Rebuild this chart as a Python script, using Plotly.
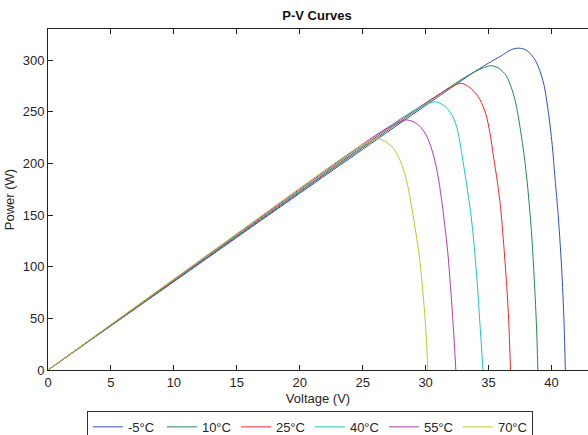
import plotly.graph_objects as go

# Temperature labels
temps = ["-5°C", "10°C", "25°C", "40°C", "55°C", "70°C"]

# Voltage (V) / Power (W) readings for each curve
v_m5 = [0, 5, 10, 15, 20, 25, 30, 34.0, 35.0, 36.0, 36.8, 37.4, 38.0, 38.6, 39.0, 39.4, 39.8, 40.08, 40.26, 40.5, 40.8, 41.0, 41.1]
p_m5 = [0, 42.8, 85.5, 128.3, 171, 213.5, 256, 289.5, 297, 304, 310, 311.5, 309.5, 302, 292, 276, 245, 215, 188, 155, 100, 45, 0]

v_10 = [0, 5, 10, 15, 20, 25, 30, 32, 33.5, 34.5, 35.2, 35.8, 36.4, 36.9, 37.2, 37.5, 37.8, 38.1, 38.4, 38.6, 38.8, 38.92]
p_10 = [0, 43, 86, 129, 172, 215, 257.5, 274.5, 286, 292, 294.5, 292, 285, 270, 256, 235, 210, 178, 135, 95, 45, 0]

v_25 = [0, 5, 10, 15, 20, 25, 28, 30, 31.5, 32.8, 33.6, 34.3, 34.8, 35.1, 35.4, 35.7, 35.95, 36.2, 36.45, 36.6, 36.74]
p_25 = [0, 43.3, 86.5, 129.8, 173, 216.3, 242, 258.5, 270, 277.5, 272.5, 262, 247, 230, 206, 182, 158, 122, 80, 48, 0]

v_40 = [0, 5, 10, 15, 20, 25, 28, 29.5, 30.8, 31.6, 32.1, 32.4, 32.65, 32.9, 33.15, 33.4, 33.6, 33.8, 34.1, 34.35, 34.56]
p_40 = [0, 43.5, 87, 130.5, 174, 217.5, 243, 254, 259.5, 254.5, 246.5, 238, 225.5, 207, 188, 168, 150, 128, 84, 38, 0]

v_55 = [0, 5, 10, 15, 20, 25, 26, 27.3, 28.55, 29.45, 30.1, 30.5, 30.8, 31.05, 31.3, 31.55, 31.75, 31.95, 32.2, 32.4]
p_55 = [0, 43.8, 87.5, 131.3, 175, 218.6, 227, 236.5, 242, 237, 226, 213, 199, 183, 162, 137, 115, 85, 42, 0]

v_70 = [0, 5, 10, 15, 20, 24, 25.2, 26.35, 27.3, 27.85, 28.25, 28.55, 28.8, 29.05, 29.3, 29.5, 29.75, 30.0, 30.18]
p_70 = [0, 44, 88, 132, 176, 210.5, 219.5, 223.5, 216.5, 206, 193.5, 180, 164, 146, 127, 110, 80, 42, 0]

voltages = [v_m5, v_10, v_25, v_40, v_55, v_70]
powers = [p_m5, p_10, p_25, p_40, p_55, p_70]
colors = ["#2F4FC4", "#1F8A4C", "#F02828", "#1EC4C4", "#B03CB0", "#C4C42A"]

x_ticks = [0, 5, 10, 15, 20, 25, 30, 35, 40]
y_ticks = [0, 50, 100, 150, 200, 250, 300]

fig = go.Figure()
for name, v, p, c in zip(temps, voltages, powers, colors):
    fig.add_trace(go.Scatter(x=v, y=p, mode="lines", name=name,
                             line=dict(color=c, width=1, shape="spline", smoothing=0.8)))

font_family = "Liberation Sans, Arial, sans-serif"
fig.update_layout(
    width=588, height=435,
    margin=dict(l=48, r=0, t=29, b=65, autoexpand=False),
    paper_bgcolor="white", plot_bgcolor="white",
    font=dict(family=font_family, size=13, color="#262626"),
    title=dict(text="<b>P-V Curves</b>", x=317 / 588, xanchor="center", xref="container",
               y=1 - 15 / 435, yanchor="middle", yref="container",
               font=dict(size=13, color="#111111")),
    showlegend=True,
    legend=dict(orientation="h", x=0.485, xanchor="center", y=-0.12, yanchor="top",
                bordercolor="#333333", borderwidth=1, bgcolor="white",
                entrywidth=29, entrywidthmode="pixels",
                font=dict(size=13, color="#262626"), tracegroupgap=0),
)
fig.update_xaxes(range=[0, 42.9], tickvals=x_ticks, ticks="inside", ticklen=5,
                 tickcolor="#222222", showline=True, linecolor="#222222", linewidth=1,
                 mirror="ticks", showgrid=False, zeroline=False, ticklabelstandoff=0,
                 title=dict(text="Voltage (V)", standoff=5, font=dict(size=13)))
fig.update_yaxes(range=[0, 330], tickvals=y_ticks, ticks="inside", ticklen=5,
                 tickcolor="#222222", showline=True, linecolor="#222222", linewidth=1,
                 mirror=False, showgrid=False, zeroline=False,
                 title=dict(text="Power (W)", standoff=5, font=dict(size=13)))

fig.write_html("out.html", config={"displayModeBar": False},
               post_script="document.body.style.margin='0';")
